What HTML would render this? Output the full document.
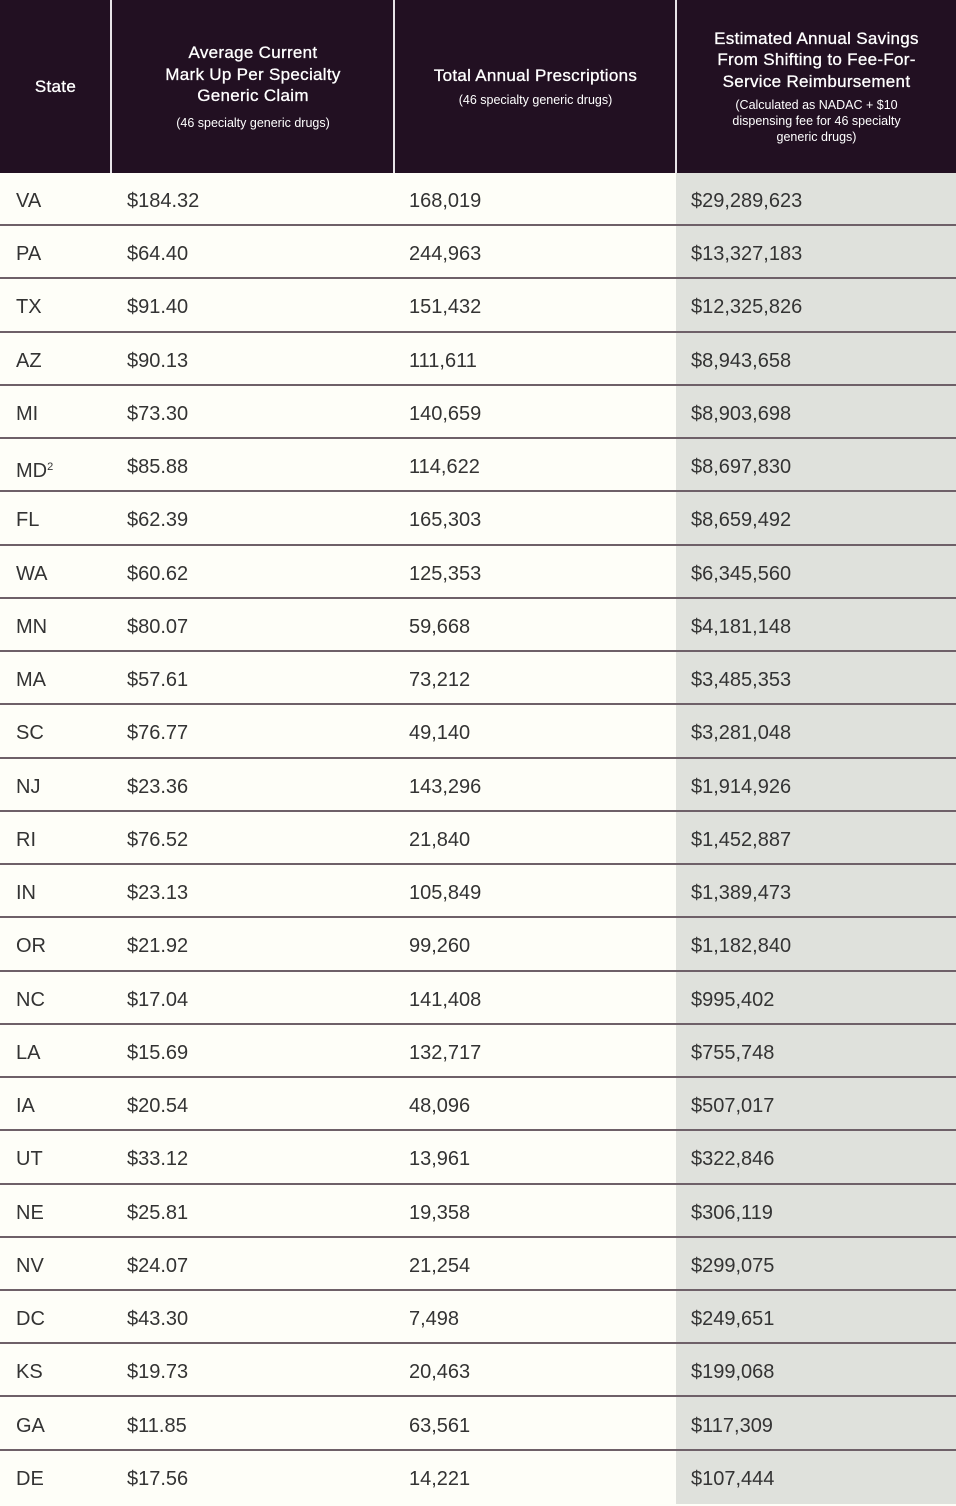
<!DOCTYPE html>
<html><head><meta charset="utf-8"><style>
*{margin:0;padding:0;box-sizing:border-box}
body{width:956px;height:1504px;background:#fefef8;font-family:"Liberation Sans",sans-serif;position:relative;overflow:hidden}
.hdr{position:absolute;top:0;left:0;width:956px;height:173px;background:#221022}
.hc{position:absolute;top:0;height:173px;display:flex;flex-direction:column;justify-content:center;align-items:center;text-align:center;color:#fff;font-size:17px;line-height:21.5px;letter-spacing:0.3px;-webkit-text-stroke:0.3px #fff}
.hc small{font-size:12.5px;line-height:16px;display:block;margin-top:8px;letter-spacing:0;-webkit-text-stroke:0}
.vs{position:absolute;top:0;width:2px;height:173px;background:#e8e4e8}
.shade{position:absolute;left:676px;top:173px;width:280px;height:1331px;background:#dfe1dc}
.row{position:absolute;left:0;width:956px;height:53.24px}
.row span{position:absolute;top:2px;line-height:53px;font-size:20px;color:#333}
.ln{position:absolute;left:0;width:956px;height:2px;background:#6e6068}
sup{font-size:11px;vertical-align:7px}
</style></head><body>
<div class="hdr"></div>
<div class="hc" style="left:0;width:111px">State</div>
<div class="vs" style="left:110px"></div>
<div class="hc" style="left:112px;width:282px">Average Current<br>Mark Up Per Specialty<br>Generic Claim<small>(46 specialty generic drugs)</small></div>
<div class="vs" style="left:393px"></div>
<div class="hc" style="left:395px;width:281px">Total Annual Prescriptions<small style="margin-top:5px">(46 specialty generic drugs)</small></div>
<div class="vs" style="left:675px"></div>
<div class="hc" style="left:677px;width:279px">Estimated Annual Savings<br>From Shifting to Fee-For-<br>Service Reimbursement<small style="margin-top:5px">(Calculated as NADAC + $10<br>dispensing fee for 46 specialty<br>generic drugs)</small></div>
<div class="shade"></div>
<div id="rows"></div>
<script>
var d=[["VA","$184.32","168,019","$29,289,623"],["PA","$64.40","244,963","$13,327,183"],["TX","$91.40","151,432","$12,325,826"],["AZ","$90.13","111,611","$8,943,658"],["MI","$73.30","140,659","$8,903,698"],["MD<sup>2</sup>","$85.88","114,622","$8,697,830"],["FL","$62.39","165,303","$8,659,492"],["WA","$60.62","125,353","$6,345,560"],["MN","$80.07","59,668","$4,181,148"],["MA","$57.61","73,212","$3,485,353"],["SC","$76.77","49,140","$3,281,048"],["NJ","$23.36","143,296","$1,914,926"],["RI","$76.52","21,840","$1,452,887"],["IN","$23.13","105,849","$1,389,473"],["OR","$21.92","99,260","$1,182,840"],["NC","$17.04","141,408","$995,402"],["LA","$15.69","132,717","$755,748"],["IA","$20.54","48,096","$507,017"],["UT","$33.12","13,961","$322,846"],["NE","$25.81","19,358","$306,119"],["NV","$24.07","21,254","$299,075"],["DC","$43.30","7,498","$249,651"],["KS","$19.73","20,463","$199,068"],["GA","$11.85","63,561","$117,309"],["DE","$17.56","14,221","$107,444"]];
var h="",xs=[16,127,409,691];
for(var i=0;i<d.length;i++){var t=173+i*53.24;h+='<div class="row" style="top:'+t+'px">';for(var j=0;j<4;j++)h+='<span style="left:'+xs[j]+'px">'+d[i][j]+'</span>';h+='</div>';if(i<d.length-1)h+='<div class="ln" style="top:'+(t+51.2)+'px"></div>';}
document.getElementById("rows").innerHTML=h;
</script>
</body></html>
